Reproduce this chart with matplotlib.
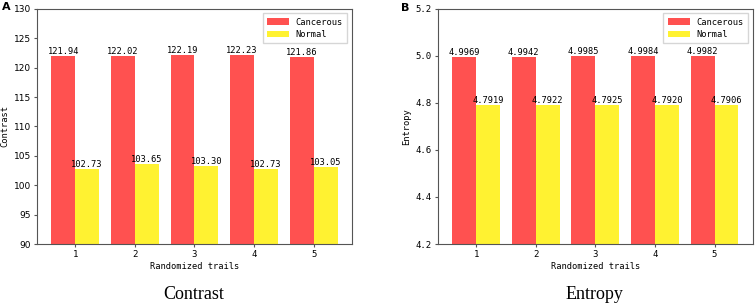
import numpy as np
import matplotlib.pyplot as plt

trials = [1, 2, 3, 4, 5]
contrast_cancer = [121.94, 122.02, 122.19, 122.23, 121.86]
contrast_normal = [102.73, 103.65, 103.30, 102.73, 103.05]
entropy_cancer = [4.9969, 4.9942, 4.9985, 4.9984, 4.9982]
entropy_normal = [4.7919, 4.7922, 4.7925, 4.7920, 4.7906]

RED = '#ff5150'
YELLOW = '#fff231'
MONO = ['DejaVu Sans Mono']

fig = plt.figure(figsize=(7.55, 3.05), dpi=100)
ax1 = fig.add_axes([0.049, 0.2, 0.417, 0.771])
ax2 = fig.add_axes([0.580, 0.2, 0.417, 0.771])


def draw(ax, cancer, normal, ylim, yticks, ylabel, fmt, ytick_family):
    x = np.array(trials)
    w = 0.4
    ax.bar(x - w / 2, cancer, w, color=RED, label='Cancerous')
    ax.bar(x + w / 2, normal, w, color=YELLOW, label='Normal')
    for xi, v in zip(x, cancer):
        ax.text(xi - w / 2, v, fmt.format(v), ha='center', va='bottom',
                fontsize=6.3, family=MONO)
    for xi, v in zip(x, normal):
        ax.text(xi + w / 2, v, fmt.format(v), ha='center', va='bottom',
                fontsize=6.3, family=MONO)
    ax.set_ylim(*ylim)
    ax.set_yticks(yticks)
    ax.set_xticks(trials)
    ax.tick_params(labelsize=6.5, length=2.5, color='#555555', pad=2)
    for lab in ax.get_xticklabels():
        lab.set_family(MONO)
    for lab in ax.get_yticklabels():
        lab.set_family(ytick_family)
    ax.set_xlabel('Randomized trails', fontsize=6.3, family=MONO, labelpad=2)
    ax.set_ylabel(ylabel, fontsize=6.3, family=MONO, labelpad=3)
    for s in ax.spines.values():
        s.set_color('#555555')
        s.set_linewidth(0.8)
    leg = ax.legend(loc='upper right', prop={'family': MONO, 'size': 6.3},
                    fancybox=False, handlelength=2.5, borderpad=0.5,
                    labelspacing=0.4)
    leg.get_frame().set_edgecolor('#cccccc')


draw(ax1, contrast_cancer, contrast_normal, (90, 130), np.arange(90, 131, 5),
     'Contrast', '{:.2f}', 'DejaVu Sans')
draw(ax2, entropy_cancer, entropy_normal, (4.2, 5.2), np.arange(4.2, 5.21, 0.2),
     'Entropy', '{:.4f}', MONO)
ax2.set_yticklabels(['%.1f' % t for t in np.arange(4.2, 5.21, 0.2)], family=MONO)

fig.text(0.256, 0.02, 'Contrast', ha='center', fontsize=13, family='Liberation Serif')
fig.text(0.787, 0.02, 'Entropy', ha='center', fontsize=13, family='Liberation Serif')
fig.text(0.003, 0.995, 'A', ha='left', va='top', fontsize=8, fontweight='bold')
fig.text(0.531, 0.99, 'B', ha='left', va='top', fontsize=8, fontweight='bold')

fig.savefig('out.png', dpi=100)
